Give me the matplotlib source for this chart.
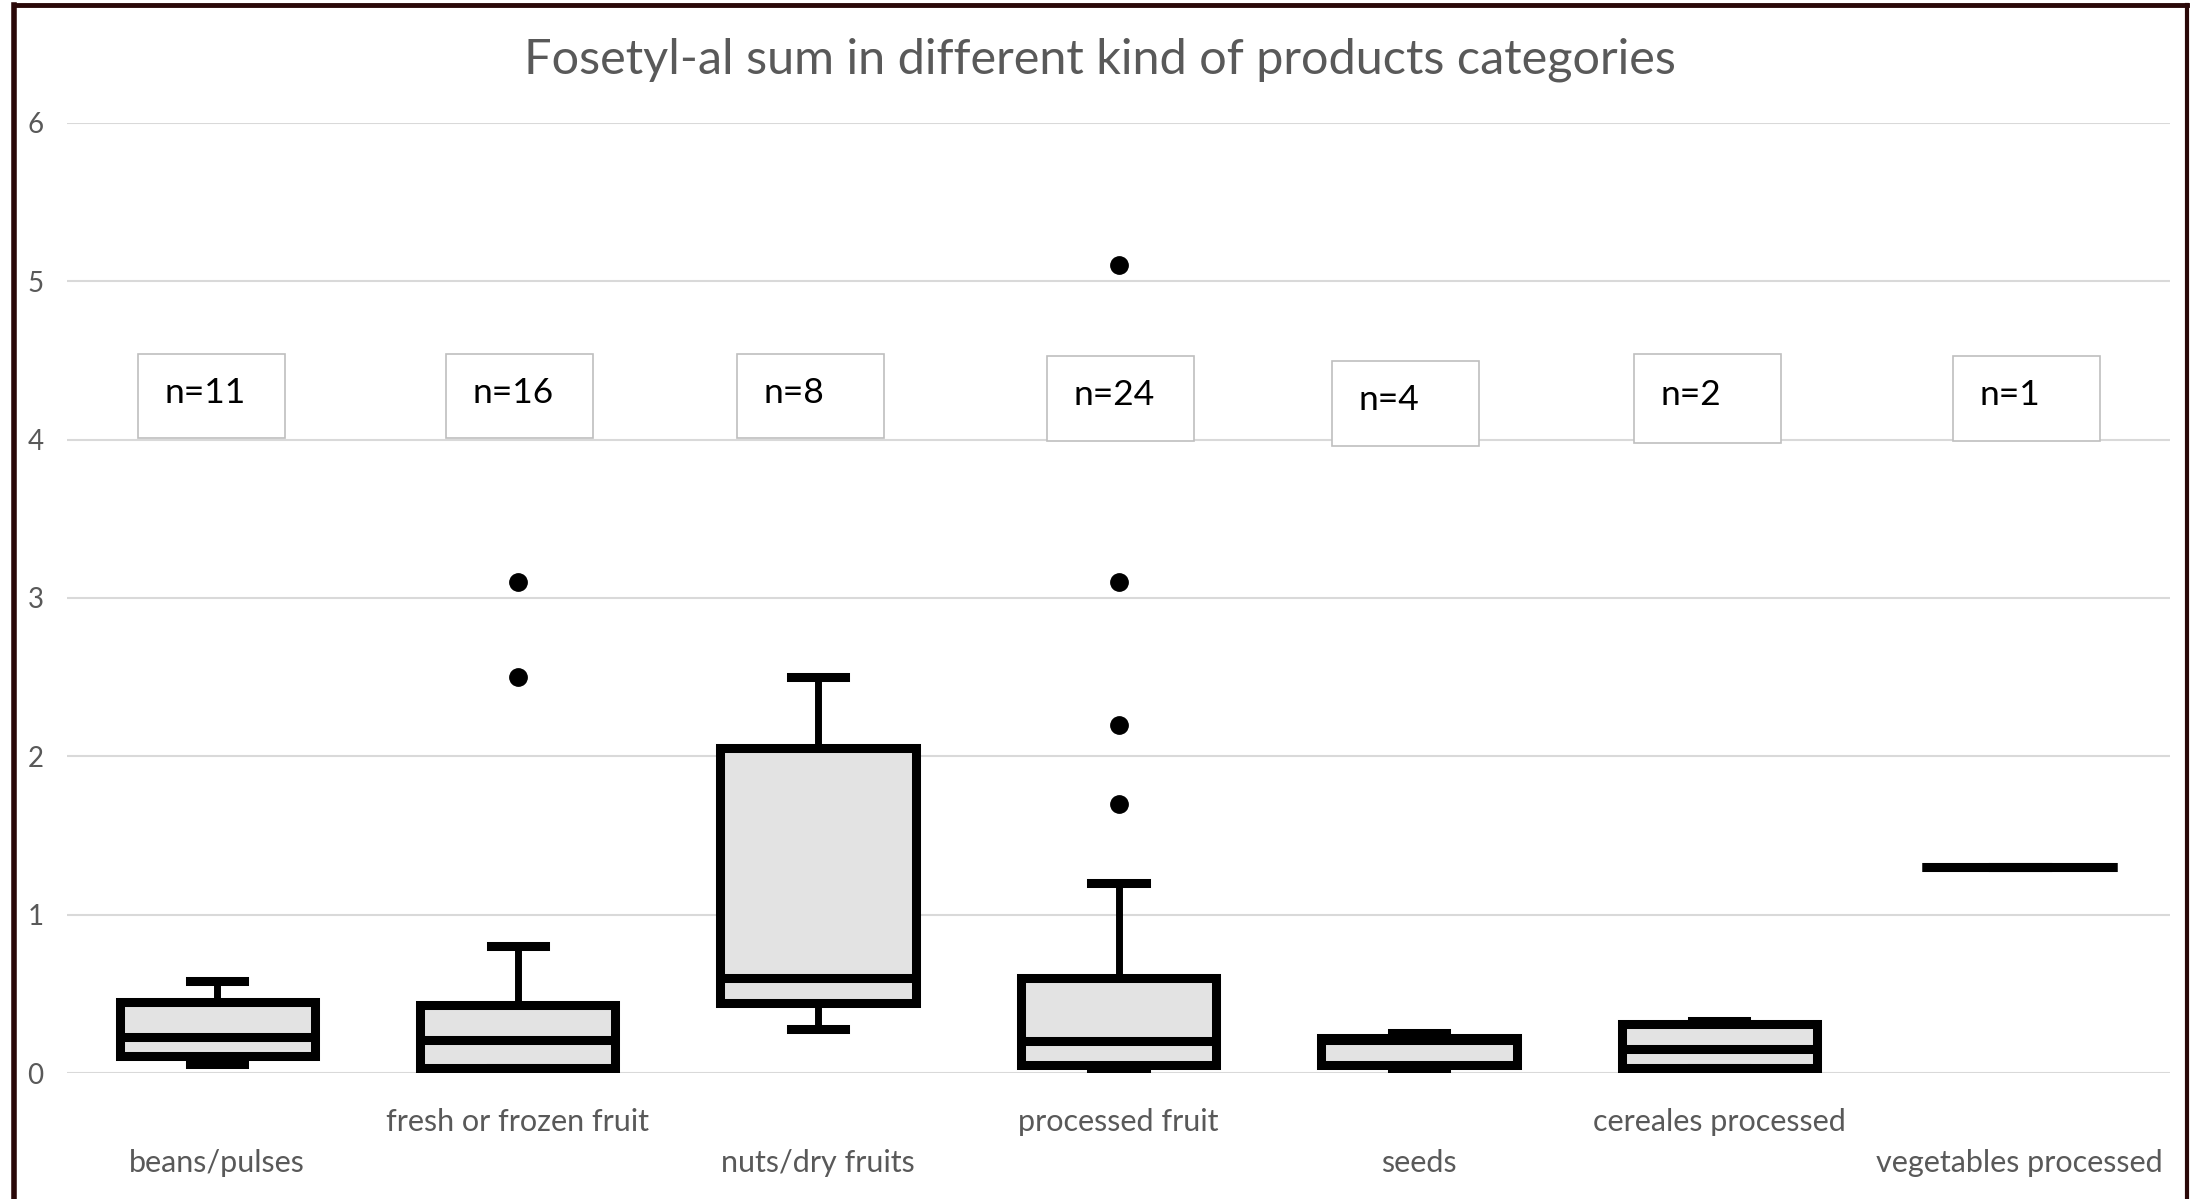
import matplotlib.pyplot as plt
from matplotlib.patches import Rectangle
from matplotlib.lines import Line2D

# data
categories = ["beans/pulses", "fresh or frozen fruit", "nuts/dry fruits", "processed fruit",
              "seeds", "cereales processed", "vegetables processed"]
q1 = [0.11, 0.03, 0.44, 0.05, 0.05, 0.03, 1.30]
med = [0.23, 0.21, 0.60, 0.20, 0.21, 0.15, 1.30]
q3 = [0.45, 0.43, 2.05, 0.60, 0.22, 0.31, 1.30]
whis_lo = [0.06, 0.03, 0.28, 0.02, 0.02, 0.03, 1.30]
whis_hi = [0.58, 0.80, 2.50, 1.20, 0.25, 0.33, 1.30]
outliers = [[], [3.1, 2.5], [], [5.1, 3.1, 2.2, 1.7], [], [], []]
n_counts = [11, 16, 8, 24, 4, 2, 1]

title = "Fosetyl-al sum in different kind of products categories"

plt.rcParams['font.family'] = ['Lato', 'DejaVu Sans']
GRAY = "#595959"

fig = plt.figure(figsize=(21.91, 11.99), dpi=100)
ax = fig.add_axes([67 / 2191, 1 - 1073 / 1199, (2170 - 67) / 2191, (1073 - 123) / 1199])

stats = []
for i in range(len(categories)):
    stats.append(dict(med=med[i], q1=q1[i], q3=q3[i], whislo=whis_lo[i],
                      whishi=whis_hi[i], fliers=outliers[i]))

pos = list(range(len(categories)))
ax.bxp(stats, positions=pos, widths=0.65, patch_artist=True, showfliers=True,
       boxprops=dict(facecolor="#e3e3e3", edgecolor="black", linewidth=6.5),
       medianprops=dict(color="black", linewidth=6.5),
       whiskerprops=dict(color="black", linewidth=5),
       capprops=dict(color="black", linewidth=6.5),
       capwidths=0.18,
       flierprops=dict(marker="o", markerfacecolor="black", markeredgecolor="black",
                       markersize=12.5))

ax.set_xlim(-0.5, len(categories) - 0.5)
ax.set_ylim(0, 6)
ax.set_yticks(range(7))
ax.grid(axis="y", color="#d9d9d9", linewidth=1.5)
ax.set_axisbelow(True)
for s in ax.spines.values():
    s.set_visible(False)
ax.tick_params(axis="y", length=0, labelsize=20, labelcolor=GRAY, pad=17)
ax.tick_params(axis="x", length=0, labelsize=22, labelcolor=GRAY)
ax.set_xticks(pos)
ax.set_xticklabels(categories)
for i, t in enumerate(ax.xaxis.get_major_ticks()):
    t.set_pad(55 if i % 2 == 0 else 25)

# n= label boxes (left edge, bottom, top in pixel-derived units)
unit = (2170 - 67) / 7
box_left_px = [138, 446, 737, 1047, 1332, 1634, 1953]
box_y_px = [(354, 438), (354, 438), (354, 438), (356, 441), (361, 446), (354, 443), (356, 441)]
for i, n in enumerate(n_counts):
    x0 = (box_left_px[i] - 67) / unit - 0.5
    w = 147 / unit
    y_top = (1073 - box_y_px[i][0]) / 158.3
    y_bot = (1073 - box_y_px[i][1]) / 158.3
    ax.add_patch(Rectangle((x0, y_bot), w, y_top - y_bot, facecolor="white",
                           edgecolor="#bfbfbf", linewidth=1.2, zorder=5))
    ax.text(x0 + 27 / unit, (y_top + y_bot) / 2 + 3 / 158.3, f"n={n}", fontsize=25.5,
            color="black", ha="left", va="center", zorder=6)

fig.text(1100 / 2191, 1 - 60 / 1199, title, fontsize=35, color=GRAY,
         ha="center", va="center")

# outer frame
frame = "#2a0808"
fig.add_artist(Line2D([13.5 / 2191, 2187 / 2191], [1 - 5 / 1199, 1 - 5 / 1199],
                      transform=fig.transFigure, color=frame, linewidth=3.5))
fig.add_artist(Line2D([13.5 / 2191, 13.5 / 2191], [0, 1 - 5 / 1199],
                      transform=fig.transFigure, color=frame, linewidth=4))
fig.add_artist(Line2D([2187 / 2191, 2187 / 2191], [0, 1 - 5 / 1199],
                      transform=fig.transFigure, color=frame, linewidth=3))

fig.savefig("out.png", dpi=100)
